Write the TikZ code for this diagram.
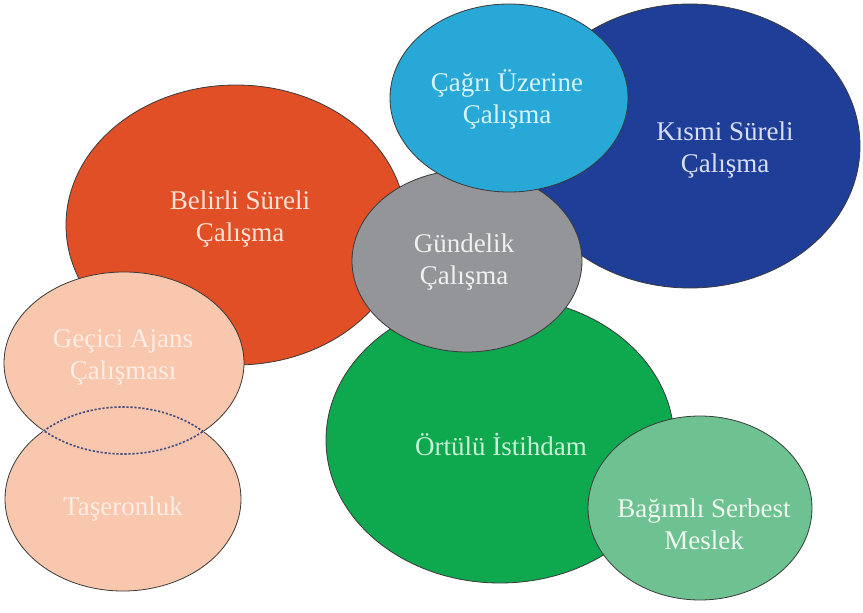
\documentclass[tikz,border=0pt]{standalone}
\usepackage{fontspec}
\setmainfont{Liberation Serif}
\definecolor{cOrange}{HTML}{E14F26}
\definecolor{cPeach}{HTML}{F8C7AE}
\definecolor{cLight}{HTML}{28A8D6}
\definecolor{cDark}{HTML}{1F3E97}
\definecolor{cGray}{HTML}{939598}
\definecolor{cGreen}{HTML}{0EA84F}
\definecolor{cMint}{HTML}{6EC190}
\definecolor{cLine}{HTML}{3A3A3A}
\definecolor{cDash}{HTML}{3F4C82}
\definecolor{tOrange}{HTML}{FCE3D7}
\definecolor{tPeach}{HTML}{FDEDE5}
\definecolor{tLight}{HTML}{D8F4FB}
\definecolor{tDark}{HTML}{D8DEF2}
\definecolor{tGray}{HTML}{F0F0F0}
\definecolor{tGreen}{HTML}{CBF0D8}
\definecolor{tMint}{HTML}{EEF8F1}
\tikzset{
  blob/.style={draw=cLine, line width=0.8pt},
  lbl/.style={align=center, inner sep=0pt, font=\fontsize{27}{32}\selectfont},
  lensdash/.style={draw=cDash, line width=1.6pt, dash pattern=on 2.2pt off 1.8pt},
  eraser/.style={draw=cPeach, line width=2.6pt}
}
\begin{document}
\begin{tikzpicture}[x=1pt,y=-1pt]
\fill[white] (0,0) rectangle (863,613);
\useasboundingbox (0,0) rectangle (863,613);
% Belirli Sureli
\path[blob, fill=cOrange] (236,225) ellipse [x radius=170pt, y radius=140pt];
% Gecici / Taseronluk
\fill[cPeach] (124,363) ellipse [x radius=120pt, y radius=91pt];
\fill[cPeach] (123,499) ellipse [x radius=118pt, y radius=92pt];
\draw[blob] (124,363) ellipse [x radius=120pt, y radius=91pt];
\draw[blob] (123,499) ellipse [x radius=118pt, y radius=92pt];
\begin{scope}
  \clip (123,499) ellipse [x radius=118pt, y radius=92pt];
  \draw[eraser] (124,363) ellipse [x radius=120pt, y radius=91pt];
\end{scope}
\begin{scope}
  \clip (124,363) ellipse [x radius=120pt, y radius=91pt];
  \draw[eraser] (123,499) ellipse [x radius=118pt, y radius=92pt];
\end{scope}
\begin{scope}
  \clip (123,499) ellipse [x radius=118pt, y radius=92pt];
  \draw[lensdash] (124,363) ellipse [x radius=120pt, y radius=91pt];
\end{scope}
\begin{scope}
  \clip (124,363) ellipse [x radius=120pt, y radius=91pt];
  \draw[lensdash] (123,499) ellipse [x radius=118pt, y radius=92pt];
\end{scope}
% Kismi Sureli
\path[blob, fill=cDark] (690,146) ellipse [x radius=170pt, y radius=142pt];
% Ortulu Istihdam
\path[blob, fill=cGreen] (500,440) ellipse [x radius=174pt, y radius=143pt];
% Gundelik
\path[blob, fill=cGray] (467,261) ellipse [x radius=115pt, y radius=91pt];
% Cagri Uzerine
\path[blob, fill=cLight] (509,98) ellipse [x radius=119pt, y radius=94pt];
% Bagimli Serbest Meslek
\path[blob, fill=cMint] (700,508) ellipse [x radius=112pt, y radius=92pt];
% labels
\node[lbl, text=tOrange] (belirli) at (240,219) {Belirli Süreli\\Çalışma};
\node[lbl, text=tPeach] (gecici) at (123,357) {Geçici Ajans\\Çalışması};
\node[lbl, text=tPeach] (taseron) at (123,509) {Taşeronluk};
\node[lbl, text=tGray] (gundelik) at (464,262) {Gündelik\\Çalışma};
\node[lbl, text=tLight] (cagri) at (507,99) {Çağrı Üzerine\\Çalışma};
\node[lbl, text=tDark] (kismi) at (725,150) {Kısmi Süreli\\Çalışma};
\node[lbl, text=tGreen] (ortulu) at (501,444) {Örtülü İstihdam};
\node[lbl, text=tMint] (bagimli) at (704,524) {Bağımlı Serbest\\Meslek};
\end{tikzpicture}
\end{document}
